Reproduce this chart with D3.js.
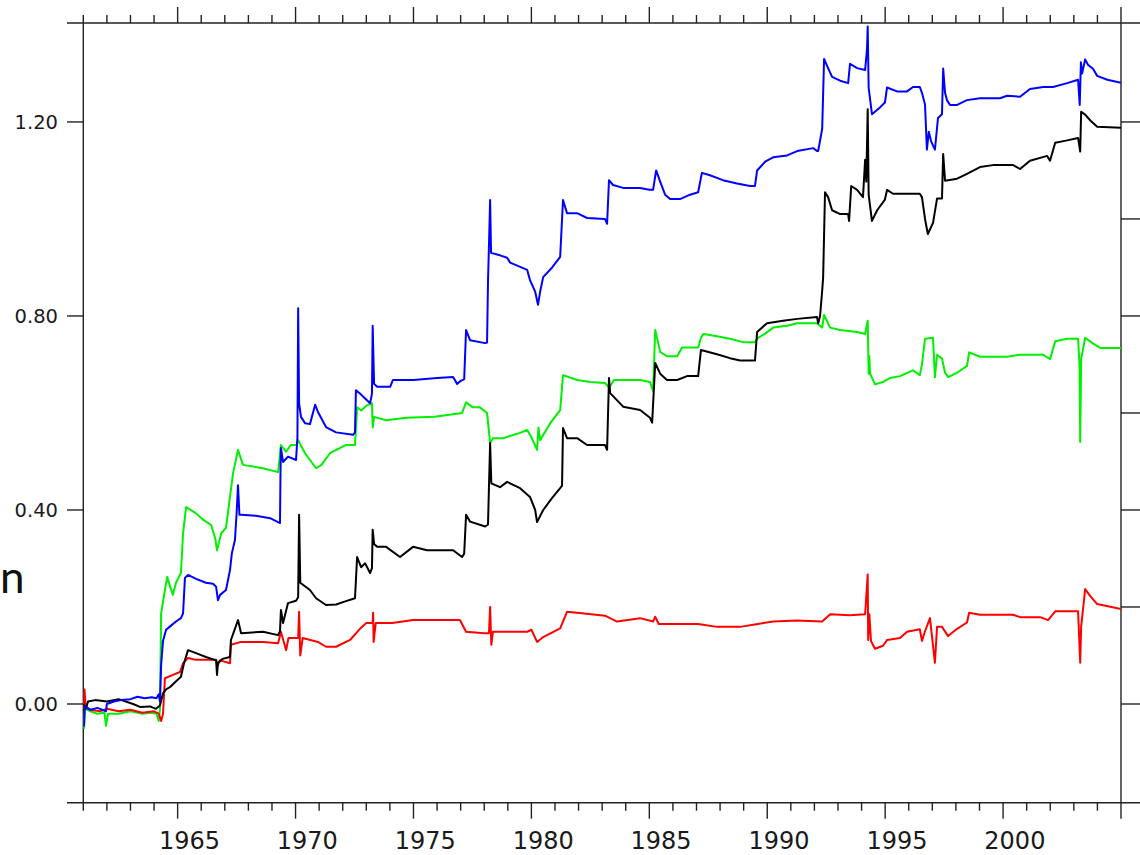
<!DOCTYPE html>
<html>
<head>
<meta charset="utf-8">
<script src="https://cdn.jsdelivr.net/npm/d3@7/dist/d3.min.js"></script>
<style>
  html, body { margin: 0; padding: 0; background: #fff; }
  svg { display: block; }
</style>
</head>
<body>
<svg id="chart" width="1140" height="855"></svg>
<script>
// Tick values and labels
const xMajorYears = [1965, 1970, 1975, 1980, 1985, 1990, 1995, 2000, 2005];
const xLabelYears = [1965, 1970, 1975, 1980, 1985, 1990, 1995, 2000];
const yLabelTicks = [0.0, 0.4, 0.8, 1.2];
const yRightTicks = [0.0, 0.2, 0.4, 0.6, 0.8, 1.0, 1.2];

// Series: [year, value]
const blueSeries = [[1961.00,-0.02],[1961.03,-0.045],[1961.06,-0.005],[1961.3,-0.012],[1961.6,-0.008],[1961.96,-0.015],[1962.0,0.0],[1962.3,0.005],[1962.6,0.008],[1963.0,0.01],[1963.3,0.015],[1963.6,0.012],[1963.9,0.014],[1964.1,0.012],[1964.2,0.02],[1964.25,0.005],[1964.3,0.08],[1964.38,0.13],[1964.51,0.153],[1964.68,0.16],[1964.93,0.17],[1965.14,0.177],[1965.23,0.187],[1965.31,0.26],[1965.44,0.266],[1965.78,0.258],[1966.2,0.25],[1966.5,0.248],[1966.63,0.242],[1966.71,0.214],[1966.8,0.225],[1967.05,0.235],[1967.22,0.276],[1967.3,0.311],[1967.43,0.338],[1967.5,0.393],[1967.56,0.451],[1967.62,0.39],[1967.69,0.39],[1968.32,0.388],[1968.92,0.383],[1969.34,0.373],[1969.36,0.47],[1969.38,0.528],[1969.47,0.499],[1969.68,0.51],[1970.02,0.503],[1970.08,0.55],[1970.11,0.816],[1970.15,0.62],[1970.23,0.592],[1970.4,0.579],[1970.61,0.577],[1970.83,0.617],[1970.95,0.602],[1971.29,0.571],[1971.72,0.56],[1972.44,0.555],[1972.52,0.56],[1972.56,0.647],[1972.73,0.64],[1972.95,0.63],[1973.16,0.62],[1973.24,0.64],[1973.27,0.78],[1973.33,0.66],[1973.46,0.654],[1974.01,0.654],[1974.13,0.668],[1975.0,0.668],[1976.0,0.672],[1976.68,0.674],[1976.85,0.66],[1976.97,0.665],[1977.15,0.67],[1977.23,0.771],[1977.4,0.75],[1978.04,0.744],[1978.12,0.745],[1978.16,0.87],[1978.25,1.039],[1978.29,0.93],[1978.67,0.925],[1978.97,0.92],[1979.1,0.91],[1979.82,0.895],[1979.94,0.874],[1980.16,0.85],[1980.28,0.823],[1980.37,0.85],[1980.5,0.88],[1980.88,0.9],[1981.22,0.922],[1981.34,1.039],[1981.51,1.012],[1981.94,1.012],[1982.36,1.002],[1983.12,1.0],[1983.21,0.99],[1983.29,1.08],[1983.46,1.07],[1983.89,1.064],[1984.61,1.064],[1985.0,1.06],[1985.16,1.06],[1985.29,1.1],[1985.46,1.077],[1985.67,1.05],[1985.88,1.041],[1986.3,1.041],[1986.73,1.05],[1987.07,1.055],[1987.23,1.095],[1987.57,1.09],[1988.12,1.08],[1988.72,1.073],[1989.27,1.068],[1989.48,1.068],[1989.57,1.1],[1989.91,1.118],[1990.25,1.127],[1990.84,1.131],[1991.27,1.14],[1991.95,1.146],[1992.11,1.14],[1992.16,1.14],[1992.33,1.186],[1992.41,1.33],[1992.58,1.311],[1992.75,1.293],[1993.09,1.285],[1993.43,1.28],[1993.51,1.32],[1993.81,1.311],[1994.15,1.307],[1994.23,1.35],[1994.26,1.397],[1994.3,1.271],[1994.44,1.216],[1994.78,1.23],[1994.99,1.24],[1995.08,1.271],[1995.5,1.263],[1995.93,1.263],[1996.18,1.272],[1996.47,1.272],[1996.56,1.26],[1996.69,1.236],[1996.77,1.143],[1996.85,1.18],[1996.95,1.16],[1997.11,1.143],[1997.24,1.208],[1997.41,1.216],[1997.46,1.31],[1997.54,1.26],[1997.62,1.245],[1997.75,1.235],[1998.05,1.235],[1998.47,1.245],[1999.02,1.249],[1999.87,1.249],[2000.17,1.254],[2000.72,1.252],[2001.14,1.268],[2001.7,1.272],[2002.12,1.272],[2002.72,1.28],[2003.18,1.287],[2003.25,1.235],[2003.3,1.323],[2003.35,1.3],[2003.48,1.329],[2003.6,1.318],[2003.82,1.309],[2003.99,1.295],[2004.42,1.287],[2005.0,1.281]];

const blackSeries = [[1961.0,0.0],[1961.1,-0.01],[1961.2,0.005],[1961.5,0.008],[1962.0,0.005],[1962.5,0.01],[1963.11,0.0],[1963.4,-0.006],[1963.83,-0.005],[1964.08,-0.01],[1964.25,-0.003],[1964.38,0.022],[1964.51,0.03],[1964.68,0.035],[1964.89,0.045],[1965.14,0.056],[1965.27,0.084],[1965.44,0.111],[1965.78,0.105],[1966.2,0.097],[1966.63,0.09],[1966.67,0.06],[1966.71,0.085],[1966.9,0.093],[1967.22,0.097],[1967.26,0.132],[1967.56,0.173],[1967.69,0.146],[1968.62,0.149],[1969.26,0.142],[1969.34,0.15],[1969.38,0.194],[1969.47,0.167],[1969.68,0.208],[1970.02,0.213],[1970.11,0.22],[1970.15,0.39],[1970.2,0.25],[1970.61,0.235],[1970.87,0.218],[1971.29,0.204],[1971.72,0.205],[1972.01,0.21],[1972.52,0.218],[1972.61,0.303],[1972.78,0.282],[1972.95,0.29],[1973.16,0.27],[1973.24,0.28],[1973.27,0.359],[1973.33,0.33],[1973.46,0.324],[1973.84,0.324],[1974.43,0.303],[1974.98,0.324],[1975.58,0.317],[1976.68,0.317],[1977.06,0.303],[1977.15,0.31],[1977.23,0.39],[1977.4,0.376],[1978.04,0.366],[1978.16,0.37],[1978.2,0.447],[1978.25,0.538],[1978.3,0.455],[1978.67,0.447],[1978.97,0.458],[1979.52,0.445],[1979.94,0.427],[1980.16,0.4],[1980.24,0.375],[1980.5,0.4],[1980.88,0.425],[1981.22,0.445],[1981.3,0.45],[1981.34,0.569],[1981.51,0.548],[1981.94,0.548],[1982.36,0.534],[1983.12,0.534],[1983.21,0.524],[1983.29,0.672],[1983.34,0.641],[1983.89,0.613],[1984.61,0.606],[1985.03,0.59],[1985.12,0.58],[1985.25,0.703],[1985.46,0.681],[1985.75,0.668],[1986.18,0.668],[1986.6,0.676],[1987.07,0.676],[1987.19,0.73],[1987.87,0.721],[1988.42,0.713],[1988.85,0.708],[1989.48,0.708],[1989.57,0.767],[1989.99,0.785],[1990.67,0.79],[1991.27,0.794],[1992.11,0.798],[1992.16,0.785],[1992.24,0.8],[1992.33,0.852],[1992.37,0.879],[1992.45,1.055],[1992.58,1.045],[1992.75,1.018],[1993.09,1.01],[1993.43,1.01],[1993.47,0.996],[1993.56,1.068],[1993.81,1.06],[1994.06,1.045],[1994.15,1.122],[1994.2,1.077],[1994.26,1.226],[1994.3,1.05],[1994.44,0.996],[1994.66,1.018],[1994.99,1.04],[1995.08,1.06],[1995.33,1.052],[1996.47,1.052],[1996.56,1.045],[1996.69,1.0],[1996.81,0.969],[1997.03,0.992],[1997.2,1.042],[1997.41,1.042],[1997.46,1.134],[1997.54,1.079],[1998.05,1.083],[1998.47,1.093],[1999.02,1.107],[1999.57,1.111],[2000.43,1.111],[2000.72,1.103],[2001.14,1.12],[2001.87,1.13],[2001.99,1.12],[2002.21,1.157],[2002.72,1.162],[2003.18,1.167],[2003.27,1.139],[2003.31,1.221],[2003.48,1.215],[2003.7,1.203],[2003.99,1.19],[2005.0,1.188]];

const greenSeries = [[1961.0,-0.02],[1961.03,-0.05],[1961.08,-0.01],[1961.3,-0.015],[1961.6,-0.02],[1961.9,-0.018],[1961.96,-0.045],[1962.05,-0.02],[1962.5,-0.02],[1963.0,-0.015],[1963.5,-0.02],[1963.9,-0.018],[1964.1,-0.02],[1964.2,-0.035],[1964.25,-0.01],[1964.3,0.187],[1964.46,0.235],[1964.56,0.262],[1964.68,0.242],[1964.8,0.225],[1964.93,0.25],[1965.14,0.27],[1965.23,0.352],[1965.36,0.406],[1965.78,0.393],[1966.08,0.38],[1966.42,0.369],[1966.6,0.34],[1966.67,0.317],[1966.85,0.352],[1967.05,0.363],[1967.22,0.427],[1967.35,0.476],[1967.56,0.524],[1967.77,0.493],[1968.62,0.486],[1969.26,0.478],[1969.38,0.534],[1969.6,0.52],[1969.8,0.534],[1970.05,0.534],[1970.11,0.544],[1970.4,0.517],[1970.87,0.486],[1971.1,0.493],[1971.46,0.517],[1972.14,0.534],[1972.52,0.534],[1972.61,0.612],[1972.78,0.605],[1973.0,0.615],[1973.24,0.62],[1973.27,0.57],[1973.33,0.592],[1973.84,0.585],[1974.7,0.59],[1975.9,0.592],[1977.06,0.6],[1977.23,0.622],[1977.5,0.612],[1977.8,0.612],[1978.12,0.6],[1978.25,0.538],[1978.37,0.548],[1978.8,0.548],[1979.52,0.559],[1979.82,0.565],[1980.0,0.55],[1980.24,0.524],[1980.3,0.57],[1980.37,0.544],[1980.8,0.579],[1981.22,0.606],[1981.34,0.678],[1981.94,0.668],[1982.5,0.664],[1983.12,0.662],[1983.3,0.652],[1983.5,0.668],[1984.61,0.668],[1985.03,0.664],[1985.16,0.645],[1985.25,0.771],[1985.46,0.726],[1985.75,0.717],[1986.18,0.717],[1986.39,0.735],[1987.07,0.735],[1987.19,0.755],[1987.3,0.763],[1987.87,0.758],[1988.42,0.753],[1988.97,0.746],[1989.48,0.746],[1989.61,0.755],[1989.9,0.763],[1990.25,0.776],[1990.84,0.78],[1991.27,0.785],[1992.11,0.785],[1992.33,0.776],[1992.41,0.802],[1992.67,0.776],[1993.09,0.771],[1993.81,0.767],[1994.15,0.763],[1994.26,0.79],[1994.3,0.681],[1994.33,0.717],[1994.36,0.681],[1994.57,0.659],[1994.91,0.664],[1995.2,0.672],[1995.63,0.676],[1996.18,0.688],[1996.47,0.678],[1996.56,0.7],[1996.69,0.753],[1997.03,0.755],[1997.11,0.674],[1997.2,0.72],[1997.41,0.712],[1997.54,0.683],[1997.67,0.674],[1998.05,0.683],[1998.47,0.697],[1998.56,0.725],[1999.02,0.716],[2000.17,0.716],[2000.72,0.72],[2001.7,0.72],[2001.99,0.711],[2002.21,0.748],[2002.72,0.753],[2003.18,0.753],[2003.24,0.7],[2003.27,0.54],[2003.31,0.711],[2003.48,0.755],[2003.82,0.743],[2004.12,0.734],[2005.0,0.734]];

const redSeries = [[1961.0,-0.01],[1961.05,0.03],[1961.1,-0.005],[1961.3,-0.012],[1961.7,-0.015],[1962.0,-0.01],[1962.5,-0.015],[1963.0,-0.012],[1963.5,-0.018],[1964.0,-0.015],[1964.2,-0.02],[1964.3,-0.035],[1964.38,-0.02],[1964.46,0.053],[1964.8,0.06],[1965.1,0.066],[1965.23,0.084],[1965.44,0.095],[1965.78,0.091],[1966.63,0.091],[1966.7,0.08],[1966.8,0.09],[1967.22,0.084],[1967.26,0.122],[1967.69,0.128],[1968.62,0.128],[1969.26,0.125],[1969.38,0.149],[1969.6,0.111],[1969.7,0.136],[1970.11,0.136],[1970.15,0.19],[1970.2,0.1],[1970.3,0.136],[1970.95,0.128],[1971.29,0.118],[1971.72,0.118],[1972.31,0.132],[1972.73,0.155],[1973.0,0.167],[1973.27,0.167],[1973.29,0.188],[1973.31,0.128],[1973.4,0.167],[1974.1,0.167],[1974.98,0.173],[1976.97,0.173],[1977.23,0.149],[1978.0,0.146],[1978.2,0.146],[1978.25,0.2],[1978.3,0.122],[1978.37,0.149],[1979.82,0.149],[1980.0,0.153],[1980.24,0.128],[1980.5,0.138],[1981.22,0.156],[1981.51,0.19],[1981.94,0.188],[1983.12,0.182],[1983.63,0.17],[1984.61,0.177],[1985.16,0.17],[1985.25,0.18],[1985.4,0.165],[1987.07,0.165],[1987.87,0.159],[1988.85,0.159],[1989.6,0.165],[1990.25,0.17],[1991.27,0.172],[1992.33,0.17],[1992.67,0.185],[1993.5,0.183],[1994.15,0.185],[1994.26,0.267],[1994.28,0.132],[1994.33,0.185],[1994.4,0.13],[1994.57,0.114],[1994.91,0.12],[1995.08,0.132],[1995.63,0.136],[1995.93,0.149],[1996.47,0.154],[1996.56,0.13],[1996.69,0.15],[1996.9,0.177],[1997.11,0.085],[1997.2,0.159],[1997.41,0.159],[1997.67,0.14],[1998.05,0.155],[1998.47,0.168],[1998.56,0.188],[1999.02,0.184],[2000.43,0.184],[2000.72,0.179],[2001.57,0.179],[2001.91,0.173],[2002.21,0.191],[2003.18,0.191],[2003.27,0.085],[2003.31,0.159],[2003.48,0.237],[2003.69,0.223],[2003.99,0.206],[2005.0,0.196]];

const seriesList = [
  { data: greenSeries, color: "#00f000" },
  { data: redSeries,   color: "#ff0000" },
  { data: blackSeries, color: "#000000" },
  { data: blueSeries,  color: "#0000ff" }
];

(function draw() {
  // Plot box
  const boxL = 83.3, boxR = 1121, boxT = 23, boxB = 802.7;
  const svg = d3.select("#chart");

  const x = d3.scaleLinear().domain([1961, 2005]).range([boxL, boxR]);
  const y = d3.scaleLinear().domain([-0.2035, 1.404]).range([boxB, boxT]);

  const axisColor = "#222";
  const sw = 1.4;
  const g = svg.append("g");

  const hline = (x1, x2, yy) => g.append("line")
    .attr("x1", x1).attr("x2", x2).attr("y1", yy).attr("y2", yy)
    .attr("stroke", axisColor).attr("stroke-width", sw);
  const vline = (xx, y1, y2) => g.append("line")
    .attr("x1", xx).attr("x2", xx).attr("y1", y1).attr("y2", y2)
    .attr("stroke", axisColor).attr("stroke-width", sw);

  // Frame: horizontal edges run past the box on both sides
  hline(67, 1140, boxT);
  hline(67, 1140, boxB);
  vline(boxL, boxT, boxB);
  vline(boxR, boxT, boxB);

  // Year ticks: minor every year, major every five, on top and bottom
  d3.range(1961, 2006).forEach(yr => {
    const len = xMajorYears.includes(yr) ? 16 : 8;
    vline(x(yr), boxB, boxB + len);
    vline(x(yr), boxT, boxT - len);
  });

  // Year labels, centred on the middle of each labelled year
  g.selectAll("text.xl").data(xLabelYears).enter().append("text")
    .attr("class", "xl")
    .attr("x", d => x(d + 0.5))
    .attr("y", 849)
    .attr("text-anchor", "middle")
    .attr("font-family", "DejaVu Sans, sans-serif")
    .attr("font-size", 24)
    .attr("fill", "#1a1a1a")
    .text(d => d);

  // Left value ticks with labels
  yLabelTicks.forEach(v => hline(67, boxL, y(v)));
  g.selectAll("text.yl").data(yLabelTicks).enter().append("text")
    .attr("class", "yl")
    .attr("x", 58)
    .attr("y", d => y(d) + 7.3)
    .attr("text-anchor", "end")
    .attr("font-family", "DejaVu Sans, sans-serif")
    .attr("font-size", 19.5)
    .attr("fill", "#1a1a1a")
    .text(d => d3.format(".2f")(d));

  // Right value ticks
  yRightTicks.forEach(v => hline(boxR, 1140, y(v)));

  // Series lines, clipped to the plot box
  svg.append("clipPath").attr("id", "plotClip")
    .append("rect").attr("x", boxL).attr("y", boxT - 2)
    .attr("width", boxR - boxL).attr("height", boxB - boxT + 2);

  const line = d3.line().x(d => x(d[0])).y(d => y(d[1]));
  const lines = svg.append("g").attr("clip-path", "url(#plotClip)");
  seriesList.forEach(s => {
    lines.append("path")
      .datum(s.data)
      .attr("d", line)
      .attr("fill", "none")
      .attr("stroke", s.color)
      .attr("stroke-width", 2)
      .attr("stroke-linejoin", "round");
  });

  // Trailing letter of the neighbouring slide text
  svg.append("text")
    .attr("x", 0)
    .attr("y", 593)
    .attr("font-family", "Lato, 'Open Sans', sans-serif")
    .attr("font-size", 44)
    .attr("fill", "#111")
    .text("n");
})();
</script>
</body>
</html>
